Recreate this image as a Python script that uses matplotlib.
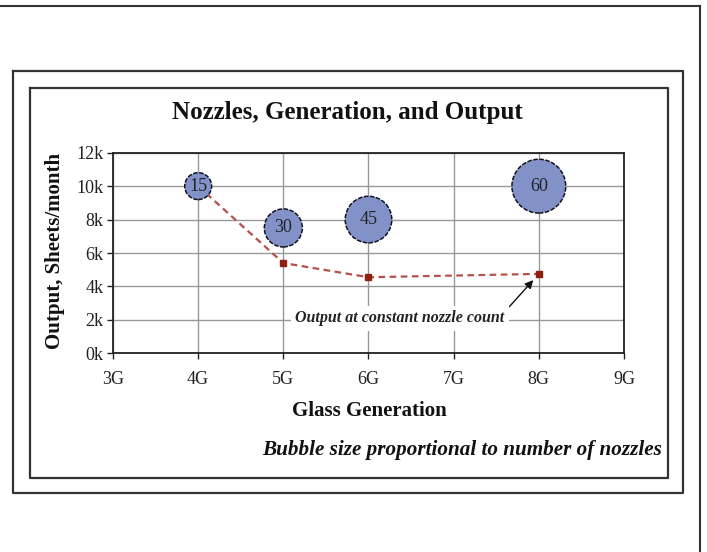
import matplotlib
matplotlib.use("Agg")
import matplotlib.pyplot as plt
from matplotlib.lines import Line2D

# ---- data ----
bubble_gen = [4, 5, 6, 8]
bubble_output = [10000, 7500, 8000, 10000]
nozzles = [15, 30, 45, 60]

line_gen = [4, 5, 6, 8]
line_output = [10000, 5400, 4550, 4750]

x_ticks = [3, 4, 5, 6, 7, 8, 9]
x_labels = ["3G", "4G", "5G", "6G", "7G", "8G", "9G"]
y_ticks = [0, 2000, 4000, 6000, 8000, 10000, 12000]
y_labels = ["0k", "2k", "4k", "6k", "8k", "10k", "12k"]

title = "Nozzles, Generation, and Output"
xlabel = "Glass Generation"
ylabel = "Output, Sheets/month"
note = "Bubble size proportional to number of nozzles"
annot = "Output at constant nozzle count"

plt.rcParams['font.family'] = ['Liberation Serif', 'DejaVu Serif']

W, H = 707, 552
fig = plt.figure(figsize=(W / 100, H / 100), dpi=100)

def px(x, y):
    return x / W, 1 - y / H

# frames
frame_col = "#333333"
fig.add_artist(Line2D([0, 700 / W], [1 - 6 / H, 1 - 6 / H], color=frame_col, lw=1.5, transform=fig.transFigure))
fig.add_artist(Line2D([700 / W, 700 / W], [1 - 6 / H, 0], color=frame_col, lw=1.5, transform=fig.transFigure))
for (x0, y0, x1, y1) in [(12.5, 71, 683, 493), (30, 88, 668, 478)]:
    xs = [x0, x1, x1, x0, x0]
    ys = [y0, y0, y1, y1, y0]
    fig.add_artist(Line2D([x / W for x in xs], [1 - y / H for y in ys],
                          color=frame_col, lw=1.6, transform=fig.transFigure))

ax = fig.add_axes([113 / W, 1 - 353.3 / H, (624 - 113) / W, (353.3 - 152.7) / H])
ax.set_xlim(3, 9)
ax.set_ylim(0, 12000)
ax.set_xticks(x_ticks)
ax.set_xticklabels(x_labels)
ax.set_yticks(y_ticks)
ax.set_yticklabels(y_labels)
ax.grid(True, color="#999999", lw=1.0)
ax.set_axisbelow(True)
for s in ax.spines.values():
    s.set_color("#222222")
    s.set_linewidth(1.3)
ax.tick_params(axis="both", direction="out", length=4, width=1, labelsize=13, colors="#222222")
ax.tick_params(axis="x", pad=9)
ax.tick_params(axis="y", pad=3)

# line
ax.plot(line_gen, line_output, linestyle=(0, (3, 2)), color="#B5504A", lw=1.6, zorder=3)
ax.plot(line_gen[1:], line_output[1:], linestyle="none", marker="s", ms=4.5,
        color="#8E1F12", zorder=4)

# bubbles
ax.scatter(bubble_gen, bubble_output, s=[25 * n for n in nozzles], color="#8292C8",
           edgecolors="#141420", linewidths=1.1, linestyles=(0, (3, 1)), zorder=5)
for g, o, n in zip(bubble_gen, bubble_output, nozzles):
    ax.text(g, o, str(n), ha="center", va="center", fontsize=13, color="#222222", zorder=6)

# annotation
ax.annotate(annot, xy=(line_gen[-1], line_output[-1]), xytext=(-100, -32),
            textcoords="offset points", ha="center", va="center",
            fontsize=11.5, fontweight="bold", fontstyle="italic", color="#222222",
            bbox=dict(boxstyle="square,pad=0.3", fc="white", ec="none"),
            arrowprops=dict(arrowstyle="-|>", color="#111111", lw=1.0,
                            relpos=(0.99, 0.75), shrinkA=0, shrinkB=6,
                            mutation_scale=12),
            zorder=7)

# texts
fig.text(*px(347, 112), title, ha="center", va="center", fontsize=18, fontweight="bold", color="#111111")
fig.text(*px(55, 251), ylabel, ha="center", va="center", rotation=90, fontsize=15,
         fontweight="bold", color="#111111")
fig.text(*px(369, 411), xlabel, ha="center", va="center", fontsize=15, fontweight="bold", color="#111111")
fig.text(*px(662, 450), note, ha="right", va="center", fontsize=15.2, fontweight="bold",
         fontstyle="italic", color="#111111")

fig.savefig("out.png", dpi=100)
